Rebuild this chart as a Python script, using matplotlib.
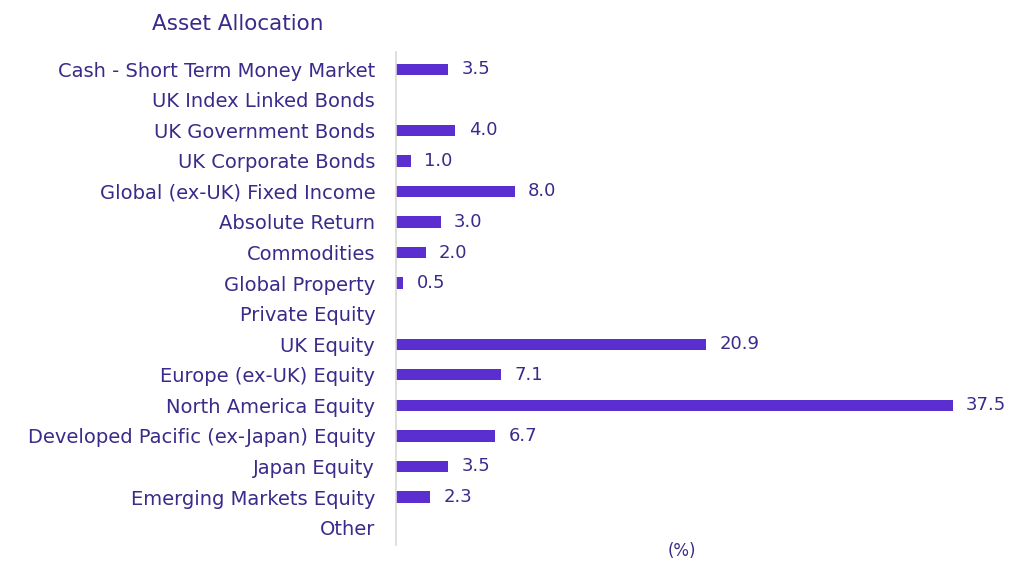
import matplotlib
matplotlib.use("Agg")
import matplotlib.pyplot as plt

categories = [
    "Cash - Short Term Money Market",
    "UK Index Linked Bonds",
    "UK Government Bonds",
    "UK Corporate Bonds",
    "Global (ex-UK) Fixed Income",
    "Absolute Return",
    "Commodities",
    "Global Property",
    "Private Equity",
    "UK Equity",
    "Europe (ex-UK) Equity",
    "North America Equity",
    "Developed Pacific (ex-Japan) Equity",
    "Japan Equity",
    "Emerging Markets Equity",
    "Other",
]
values = [3.5, None, 4.0, 1.0, 8.0, 3.0, 2.0, 0.5, None, 20.9, 7.1, 37.5, 6.7, 3.5, 2.3, None]

bar_color = "#5B2ECF"
text_color = "#3B2A8A"

plt.rcParams["font.family"] = ["DejaVu Sans"]

fig = plt.figure(figsize=(10.09, 5.61), dpi=100)
ax = fig.add_axes([0.3925, 0.0285, 0.5885, 0.8785])

pos = list(range(len(categories)))
for i, v in zip(pos, values):
    if v is None:
        continue
    ax.barh(i, v, height=0.37, color=bar_color)
    ax.text(v + 0.9, i, f"{v:.1f}", va="center", ha="left", fontsize=13, color=text_color)

ax.set_xlim(0, 40)
ax.set_ylim(15.57, -0.556)
ax.set_yticks(pos)
ax.set_yticklabels(categories, fontsize=14, color=text_color)
ax.tick_params(axis="y", length=0, pad=15)
ax.set_xticks([])
for s in ["top", "right", "bottom"]:
    ax.spines[s].set_visible(False)
ax.spines["left"].set_color("#D9D9D9")
ax.spines["left"].set_linewidth(1.2)

fig.text(0.151, 0.957, "Asset Allocation", fontsize=15.5, color=text_color, ha="left", va="center")
fig.text(0.676, 0.018, "(%)", fontsize=12, color=text_color, ha="center", va="center")

fig.savefig("out.png", dpi=100)
